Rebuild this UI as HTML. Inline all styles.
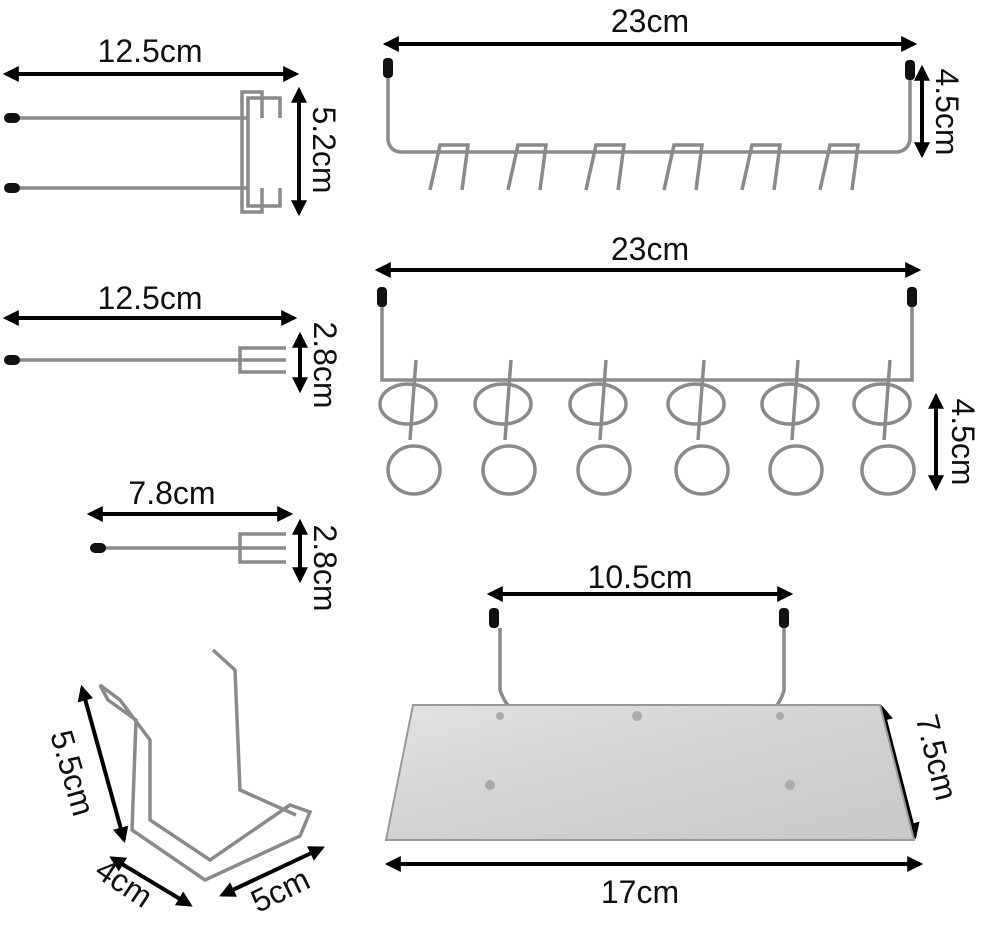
<!DOCTYPE html>
<html><head><meta charset="utf-8"><style>
html,body{margin:0;padding:0;background:#fff;width:986px;height:934px;overflow:hidden}
svg{display:block}
text{font-family:"Liberation Sans",sans-serif;font-size:32px;fill:#111}
</style></head><body>
<svg width="986" height="934" viewBox="0 0 986 934">
<defs>
<marker id="a" viewBox="0 0 10 10" refX="8" refY="5" markerWidth="4" markerHeight="4" orient="auto-start-reverse"><path d="M0,0L10,5L0,10z" fill="#000"/></marker>
<linearGradient id="pl" x1="0" y1="0" x2="1" y2="1"><stop offset="0" stop-color="#e2e2e2"/><stop offset="0.5" stop-color="#d2d2d2"/><stop offset="1" stop-color="#c8c8c8"/></linearGradient>
</defs>
<g stroke="#000" stroke-width="4" fill="none" marker-start="url(#a)" marker-end="url(#a)">
<line x1="6" y1="74" x2="296" y2="74"/>
<line x1="299" y1="90" x2="299" y2="213"/>
<line x1="386" y1="44" x2="914" y2="44"/>
<line x1="922" y1="68" x2="922" y2="155"/>
<line x1="378" y1="270" x2="918" y2="270"/>
<line x1="6" y1="318" x2="294" y2="318"/>
<line x1="300" y1="335" x2="300" y2="390"/>
<line x1="936" y1="396" x2="936" y2="488"/>
<line x1="90" y1="514" x2="290" y2="514"/>
<line x1="300" y1="522" x2="300" y2="580"/>
<line x1="490" y1="594" x2="790" y2="594"/>
<line x1="882" y1="708" x2="915" y2="836"/>
<line x1="388" y1="864" x2="920" y2="864"/>
<line x1="82" y1="688" x2="124" y2="840"/>
<line x1="112" y1="858" x2="190" y2="905"/>
<line x1="222" y1="895" x2="322" y2="848"/>
</g>
<g>
<text x="150" y="62" text-anchor="middle">12.5cm</text>
<text x="650" y="32" text-anchor="middle">23cm</text>
<text x="650" y="260" text-anchor="middle">23cm</text>
<text x="150" y="309" text-anchor="middle">12.5cm</text>
<text x="172" y="504" text-anchor="middle">7.8cm</text>
<text x="640" y="588" text-anchor="middle">10.5cm</text>
<text x="640" y="903" text-anchor="middle">17cm</text>
<text transform="translate(313,150) rotate(90)" text-anchor="middle">5.2cm</text>
<text transform="translate(936,112) rotate(90)" text-anchor="middle">4.5cm</text>
<text transform="translate(952,442) rotate(90)" text-anchor="middle">4.5cm</text>
<text transform="translate(314,365) rotate(90)" text-anchor="middle">2.8cm</text>
<text transform="translate(314,568) rotate(90)" text-anchor="middle">2.8cm</text>
<text transform="translate(926,760) rotate(76)" text-anchor="middle">7.5cm</text>
<text transform="translate(62,776) rotate(74)" text-anchor="middle">5.5cm</text>
<text transform="translate(118,892) rotate(34)" text-anchor="middle">4cm</text>
<text transform="translate(285,900) rotate(-26)" text-anchor="middle">5cm</text>
</g>
<g stroke="#8a8a8a" stroke-width="3.5" fill="none">
<line x1="14" y1="118" x2="248" y2="118"/><line x1="14" y1="188" x2="248" y2="188"/>
<path d="M262,118V92H242V212H262V188"/><path d="M280,118V98H248V206H280V188"/>
<line x1="14" y1="360" x2="240" y2="360"/><path d="M286,348H240V372H286"/><line x1="240" y1="360" x2="286" y2="360"/>
<line x1="100" y1="548" x2="240" y2="548"/><path d="M286,534H240V562H286"/><line x1="240" y1="548" x2="286" y2="548"/>
</g>
<g fill="#111"><rect x="4" y="113" width="16" height="10" rx="5"/><rect x="4" y="183" width="16" height="10" rx="5"/><rect x="4" y="355" width="16" height="10" rx="5"/><rect x="90" y="543" width="16" height="10" rx="5"/>
<rect x="383" y="58" width="10" height="20" rx="4"/><rect x="905" y="60" width="10" height="20" rx="4"/>
<rect x="377" y="287" width="10" height="20" rx="4"/><rect x="907" y="287" width="10" height="20" rx="4"/>
<rect x="489" y="608" width="10" height="20" rx="4"/><rect x="779" y="608" width="10" height="20" rx="4"/></g>
<g stroke="#8a8a8a" stroke-width="3.5" fill="none">
<path d="M388,78V140Q390,152 402,152H898Q908,150 910,140V80"/>
<g id="h"><path d="M430,190L440,145H468L462,190"/></g>
<use href="#h" x="78"/><use href="#h" x="156"/><use href="#h" x="234"/><use href="#h" x="312"/><use href="#h" x="390"/>
<path d="M382,307V380H912V307"/>
<g id="r"><ellipse cx="408" cy="404" rx="28" ry="20"/><line x1="416" y1="360" x2="410" y2="440"/><ellipse cx="414" cy="470" rx="26" ry="24"/></g>
<use href="#r" x="95"/><use href="#r" x="190"/><use href="#r" x="288"/><use href="#r" x="382"/><use href="#r" x="474"/>
<path d="M500,628V690Q505,705 515,712"/><path d="M784,628V690Q780,705 770,712"/>
<path d="M100,685L108,700L136,720L132,830L205,880L300,836L310,812L290,805L210,860L150,820L150,740L120,700Z"/>
<path d="M213,650L235,670L240,790L296,815"/>
</g>
<polygon points="413,705 880,705 914,840 386,840" fill="url(#pl)" stroke="#999" stroke-width="2"/>
<g fill="#aaa"><circle cx="637" cy="716" r="5"/><circle cx="500" cy="716" r="4"/><circle cx="780" cy="716" r="4"/><circle cx="490" cy="785" r="5"/><circle cx="790" cy="785" r="5"/></g>
</svg>
</body></html>
